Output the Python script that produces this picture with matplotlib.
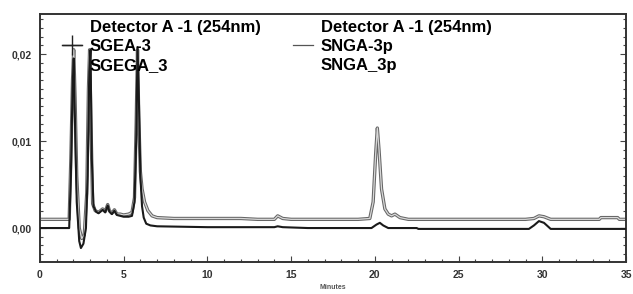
import matplotlib
matplotlib.use("Agg")
import matplotlib.pyplot as plt
import matplotlib.patheffects as pe
from matplotlib.lines import Line2D
from matplotlib.ticker import MultipleLocator, FuncFormatter

plt.rcParams['font.family'] = ['Liberation Sans', 'DejaVu Sans']

# SGEA-3 trace (dark, lower baseline)
t_sgea = [0, 1.75, 1.85, 1.95, 2.02, 2.1, 2.2, 2.35, 2.45, 2.6, 2.75, 2.85, 2.95, 3.02,
          3.1, 3.2, 3.35, 3.5, 3.75, 3.9, 4.05, 4.15, 4.3, 4.45, 4.6, 4.8, 5.0, 5.3,
          5.5, 5.65, 5.75, 5.83, 5.92, 6.0, 6.1, 6.2, 6.35, 6.6, 7, 10, 14, 14.2, 14.5,
          16, 19.8, 20.1, 20.3, 20.5, 20.8, 22.5, 22.6, 29.2, 29.5, 29.8, 30.1, 30.5, 35]
v_sgea = [0.0, 0.0, 0.006, 0.016, 0.0195, 0.012, 0.003, -0.0015, -0.0023, -0.0018, 0.0,
          0.006, 0.018, 0.0205, 0.008, 0.0025, 0.0019, 0.0017, 0.0021, 0.0018, 0.0026,
          0.0019, 0.0016, 0.0020, 0.0015, 0.0014, 0.0013, 0.0013, 0.0014, 0.0030, 0.010,
          0.0208, 0.014, 0.006, 0.0025, 0.0012, 0.0005, 0.0003, 0.0002, 0.0001, 0.0001,
          0.0002, 0.0001, 0.0, 0.0, 0.0004, 0.0006, 0.0003, 0.0, 0.0, -0.0001, -0.0001,
          0.0003, 0.0008, 0.0006, -0.0001, -0.0001]

# SNGA-3p trace (grey, upper baseline)
t_snga = [0, 1.75, 1.85, 1.95, 2.02, 2.1, 2.2, 2.35, 2.5, 2.65, 2.8, 2.9, 2.97, 3.05,
          3.15, 3.3, 3.5, 3.75, 3.9, 4.05, 4.15, 4.3, 4.45, 4.6, 4.8, 5.0, 5.3, 5.5,
          5.65, 5.75, 5.83, 5.9, 6.0, 6.1, 6.25, 6.45, 6.7, 7.0, 8, 9, 10, 11, 12, 13,
          14, 14.2, 14.5, 15, 16, 17, 18, 19, 19.7, 19.9, 20.05, 20.15, 20.25, 20.4,
          20.6, 20.8, 21.0, 21.2, 21.5, 22, 25, 29, 29.5, 29.8, 30.1, 30.5, 31, 33.4,
          33.5, 34.5, 34.6, 35]
v_snga = [0.001, 0.001, 0.008, 0.017, 0.0205, 0.015, 0.006, 0.000, -0.0012, -0.0008,
          0.004, 0.016, 0.0205, 0.012, 0.0028, 0.002, 0.0018, 0.0022, 0.0019, 0.0027,
          0.002, 0.0017, 0.0021, 0.0016, 0.0016, 0.0015, 0.0016, 0.0018, 0.0035, 0.012,
          0.0205, 0.013, 0.0065, 0.0045, 0.003, 0.002, 0.0014, 0.0012, 0.0011, 0.0011,
          0.0011, 0.0011, 0.0011, 0.0010, 0.0010, 0.0014, 0.0011, 0.0010, 0.0010, 0.0010,
          0.0010, 0.0010, 0.0011, 0.0030, 0.0085, 0.0115, 0.0090, 0.0045, 0.0022, 0.0016,
          0.0014, 0.0016, 0.0012, 0.0010, 0.0010, 0.0010, 0.0011, 0.0014, 0.0013, 0.0010,
          0.0010, 0.0010, 0.0012, 0.0012, 0.0010, 0.0010]

detector = "Detector A -1 (254nm)"
names_1 = ["SGEA-3", "SGEGA_3"]
names_2 = ["SNGA-3p", "SNGA_3p"]

fig = plt.figure(figsize=(6.33, 2.94), dpi=100)
ax = fig.add_axes([0.063, 0.109, 0.926, 0.843])

grey_fx = [pe.Stroke(linewidth=2.4, foreground='#666666'), pe.Normal()]
ax.plot(t_snga, v_snga, color='#d8d8d8', lw=0.9, path_effects=grey_fx, zorder=2)
ax.plot(t_sgea, v_sgea, color='#1a1a1a', lw=1.5, zorder=3)

ax.set_xlim(0, 35)
ax.set_ylim(-0.0039, 0.0246)
ax.xaxis.set_major_locator(MultipleLocator(5))
ax.xaxis.set_minor_locator(MultipleLocator(1))
ax.yaxis.set_major_locator(MultipleLocator(0.01))
ax.yaxis.set_minor_locator(MultipleLocator(0.001))
ax.yaxis.set_major_formatter(FuncFormatter(lambda v, p: f"{v:.2f}".replace('.', ',').replace('-', '')))
ax.tick_params(which='both', direction='in', right=True, top=False, width=0.8, color='#444444')
ax.tick_params(which='major', length=4, labelsize=7.5, labelcolor='#333333', pad=6)
ax.tick_params(which='minor', length=2.5)
for lab in ax.get_xticklabels() + ax.get_yticklabels():
    lab.set_fontweight('bold')
for s in ax.spines.values():
    s.set_linewidth(1.4)
    s.set_color('#333333')

ax.set_xlabel("Minutes", fontsize=5, fontweight='bold', color='#555555', labelpad=3)

blank = Line2D([], [], linestyle='none')
h1 = Line2D([], [], color='#222222', lw=1.0, marker='+', markersize=14, markeredgewidth=1.0)
h2 = Line2D([], [], color='#555555', lw=0.9)

kw = dict(frameon=False, loc='upper left', fontsize=12, handlelength=1.2,
          handletextpad=0.45, labelspacing=0.22, borderaxespad=0, borderpad=0)
leg1 = ax.legend([blank, h1, blank], [detector] + names_1,
                 bbox_to_anchor=(0.038, 0.975), **kw)
for tx in leg1.get_texts():
    tx.set_fontweight('bold')
ax.add_artist(leg1)
leg2 = ax.legend([blank, h2, blank], [detector] + names_2,
                 bbox_to_anchor=(0.432, 0.975), **kw)
for tx in leg2.get_texts():
    tx.set_fontweight('bold')

fig.savefig("out.png", dpi=100)
